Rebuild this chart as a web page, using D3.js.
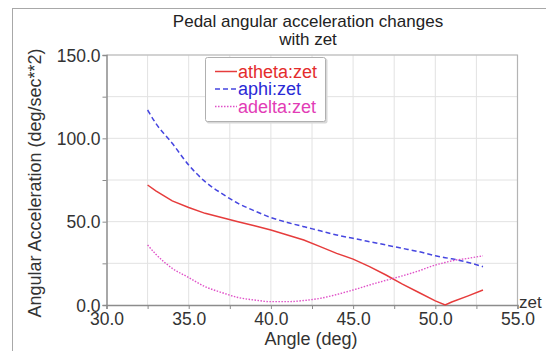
<!DOCTYPE html>
<html>
<head>
<meta charset="utf-8">
<script src="https://cdn.jsdelivr.net/npm/d3@7"></script>
<style>
  body { margin: 0; background: #fff; }
  text { font-family: "Liberation Sans", Arial, sans-serif; }
</style>
</head>
<body>
<div id="chart"></div>
<script>
// Data
var angles = [32.5, 33, 34, 35, 36, 37, 38, 39, 40, 41, 42, 43, 44, 45, 46, 47, 48, 49, 50, 50.6, 51, 52, 52.9];
var atheta = [72, 68.5, 62.5, 58.5, 55, 52.5, 50, 47.5, 45, 42, 39, 35, 31, 27.5, 23, 18, 12.5, 7.5, 2.5, 0, 1.8, 5.5, 9];
var aphi   = [117, 109, 97, 84, 74, 67, 61, 56.5, 52.5, 49.5, 47, 44.5, 42, 40, 38, 36, 34, 32, 29.6, 28.4, 27.7, 25.5, 23];
var adelta = [36, 30.5, 22, 16.5, 11, 7.5, 4.5, 3, 2, 2, 2.7, 4, 6.3, 9, 12, 14.8, 17.5, 20.5, 24, 25.5, 26.5, 28, 29.5];
var seriesNames = ["atheta:zet", "aphi:zet", "adelta:zet"];
var xTicks = d3.range(30, 55.01, 2.5);
var yTicks = d3.range(0, 150.01, 25);

var svgWidth = 546;
var svgHeight = 351;

var margin = { top: 55, right: 28.5, bottom: 46, left: 106.5 };
var chartWidth = svgWidth - margin.left - margin.right;
var chartHeight = svgHeight - margin.top - margin.bottom;

var svg = d3.select("#chart")
    .append("svg")
    .attr("width", svgWidth)
    .attr("height", svgHeight);

// outer frame
svg.append("rect")
    .attr("x", 12.5).attr("y", 8.5)
    .attr("width", 600).attr("height", 400)
    .attr("fill", "none")
    .attr("stroke", "#a8a8a8");

var chartGroup = svg.append("g")
    .attr("transform", `translate(${margin.left}, ${margin.top})`);

var x = d3.scaleLinear().domain([30, 55]).range([0, chartWidth]);
var y = d3.scaleLinear().domain([0, 150]).range([chartHeight, 0]);

// grid
chartGroup.append("g").selectAll("line")
    .data(xTicks.slice(1))
    .enter().append("line")
    .attr("x1", d => x(d)).attr("x2", d => x(d))
    .attr("y1", 0).attr("y2", chartHeight)
    .attr("stroke", "#e2e2e2");
chartGroup.append("g").selectAll("line")
    .data(yTicks.slice(1))
    .enter().append("line")
    .attr("x1", 0).attr("x2", chartWidth)
    .attr("y1", d => y(d)).attr("y2", d => y(d))
    .attr("stroke", "#e2e2e2");

// top / right border
chartGroup.append("path")
    .attr("d", `M0,0H${chartWidth}V${chartHeight}`)
    .attr("fill", "none")
    .attr("stroke", "#b4b4b4")
    .attr("stroke-width", 1.2);

// axes
var leftAxis = d3.axisLeft(y)
    .tickValues(yTicks)
    .tickSize(4)
    .tickPadding(2)
    .tickFormat(d => d % 50 === 0 ? d3.format(".1f")(d) : "");
var bottomAxis = d3.axisBottom(x)
    .tickValues(xTicks)
    .tickSize(4)
    .tickPadding(4)
    .tickFormat(d => d % 5 === 0 ? d3.format(".1f")(d) : "");

var yAxisG = chartGroup.append("g").call(leftAxis);
var xAxisG = chartGroup.append("g")
    .attr("transform", `translate(0, ${chartHeight})`)
    .call(bottomAxis);

[yAxisG, xAxisG].forEach(function (g) {
    g.select(".domain").attr("stroke", "#8c8c8c").attr("stroke-width", 1.5);
    g.selectAll(".tick line").attr("stroke", "#8c8c8c");
    g.selectAll("text")
        .attr("font-size", "17.5px")
        .attr("fill", "#333")
        .style("font-family", "'Liberation Sans', Arial, sans-serif");
});
yAxisG.selectAll("text").attr("dy", "0.36em");

// lines
var styles = [
    { values: atheta, color: "#e63c3c", dash: null, width: 1.5, text: "#e42c2c", curve: d3.curveLinear },
    { values: aphi, color: "#4646e0", dash: "5,3", width: 1.5, text: "#2a2ad6", curve: d3.curveMonotoneX },
    { values: adelta, color: "#e050c8", dash: "1.5,1.5", width: 1.4, text: "#e23cb6", curve: d3.curveMonotoneX }
];

styles.forEach(function (s) {
    var line = d3.line()
        .curve(s.curve)
        .x(d => x(d[0]))
        .y(d => y(d[1]));
    chartGroup.append("path")
        .datum(angles.map((a, i) => [a, s.values[i]]))
        .attr("d", line)
        .attr("fill", "none")
        .attr("stroke", s.color)
        .attr("stroke-width", s.width)
        .attr("stroke-dasharray", s.dash);
});

// legend
var legend = svg.append("g").attr("transform", "translate(205, 57)");
legend.append("rect")
    .attr("x", 1.5).attr("y", 1.5)
    .attr("width", 121).attr("height", 65)
    .attr("rx", 2)
    .attr("fill", "#d8d8d8");
legend.append("rect")
    .attr("x", 0.5).attr("y", 0.5)
    .attr("width", 120).attr("height", 64)
    .attr("rx", 2)
    .attr("fill", "#fff")
    .attr("stroke", "#b0b0b0");

styles.forEach(function (s, i) {
    var ly = 14.5 + i * 17.5;
    legend.append("line")
        .attr("x1", 10).attr("x2", 32)
        .attr("y1", ly).attr("y2", ly)
        .attr("stroke", s.color)
        .attr("stroke-width", s.width)
        .attr("stroke-dasharray", s.dash);
    legend.append("text")
        .attr("x", 33).attr("y", ly + 6)
        .attr("font-size", "18px")
        .attr("fill", s.text)
        .text(seriesNames[i]);
});

// title
svg.append("text")
    .attr("x", 308).attr("y", 27)
    .attr("text-anchor", "middle")
    .attr("font-size", "17px")
    .attr("fill", "#222")
    .text("Pedal angular acceleration changes");
svg.append("text")
    .attr("x", 308).attr("y", 45)
    .attr("text-anchor", "middle")
    .attr("font-size", "17px")
    .attr("fill", "#222")
    .text("with zet");

// axis labels
svg.append("text")
    .attr("transform", "translate(41, 183) rotate(-90)")
    .attr("text-anchor", "middle")
    .attr("font-size", "18px")
    .attr("fill", "#333")
    .text("Angular Acceleration (deg/sec**2)");

svg.append("text")
    .attr("x", 311).attr("y", 345)
    .attr("text-anchor", "middle")
    .attr("font-size", "18px")
    .attr("fill", "#333")
    .text("Angle (deg)");

svg.append("text")
    .attr("x", 519).attr("y", 308)
    .attr("font-size", "17px")
    .attr("fill", "#333")
    .text("zet");
</script>
</body>
</html>
